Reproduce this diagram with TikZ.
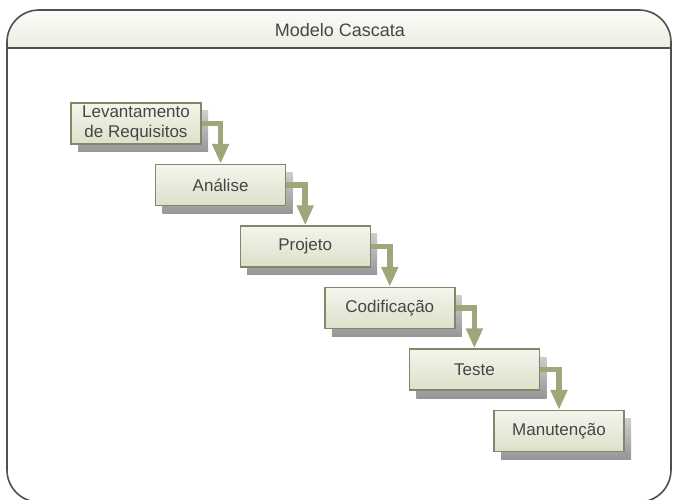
\documentclass[tikz,border=0pt]{standalone}
\usepackage{fontspec}
\setmainfont{Liberation Sans}
\usetikzlibrary{arrows.meta}

\definecolor{frameline}{RGB}{80,80,80}
\definecolor{bandtop}{RGB}{252,252,248}
\definecolor{bandbot}{RGB}{236,236,226}
\definecolor{boxedge}{RGB}{128,136,104}
\definecolor{boxinner}{RGB}{250,250,244}
\definecolor{boxtop}{RGB}{244,245,236}
\definecolor{boxbot}{RGB}{220,224,202}
\definecolor{shadetop}{RGB}{205,205,205}
\definecolor{shadebot}{RGB}{150,150,150}
\definecolor{flowcol}{RGB}{158,166,122}
\definecolor{txt}{RGB}{70,70,70}

\begin{document}
\begin{tikzpicture}[x=1pt,y=-1pt,
  frame/.style={draw=frameline, line width=1.6},
  title/.style={text=txt, font=\fontsize{18}{21}\selectfont},
  stage/.style={minimum width=130, minimum height=41, inner sep=0,
    align=center, draw=boxedge, line width=1.4,
    top color=boxtop, bottom color=boxbot, text=txt,
    font=\fontsize{17}{19.5}\selectfont,
    preaction={draw=none, top color=shadetop, bottom color=shadebot,
      transform canvas={shift={(7,8)}}}},
  flow/.style={draw=flowcol, line width=5.5,
    -{Triangle[width=16,length=20]}}]

\useasboundingbox (0,0) rectangle (673,500);

% outer frame with its title band
\begin{scope}
  \clip (0,0) rectangle (673,500);
  \begin{scope}
    \clip[rounded corners=32] (7,10) rectangle (671,502);
    \fill[top color=bandtop, bottom color=bandbot] (7,10) rectangle (671,48);
  \end{scope}
  \draw[frame, rounded corners=32] (7,10) rectangle (671,502);
  \draw[frame] (7,48) -- (671,48);
\end{scope}

\node[title] (title) at (340,30) {Modelo Cascata};

% the phases, stepping down to the right
\node[stage] (s1) at (136,123.5) {Levantamento\\de Requisitos};
\node[stage] (s2) at (220.6,185) {Análise};
\node[stage] (s3) at (305.2,246.5) {Projeto};
\node[stage] (s4) at (389.8,308) {Codificação};
\node[stage] (s5) at (474.4,369.5) {Teste};
\node[stage] (s6) at (559,431) {Manutenção};

% flow from each phase into the next
\draw[flow] (s1.east) -| (s2.north);
\draw[flow] (s2.east) -| (s3.north);
\draw[flow] (s3.east) -| (s4.north);
\draw[flow] (s4.east) -| (s5.north);
\draw[flow] (s5.east) -| (s6.north);

\end{tikzpicture}
\end{document}
